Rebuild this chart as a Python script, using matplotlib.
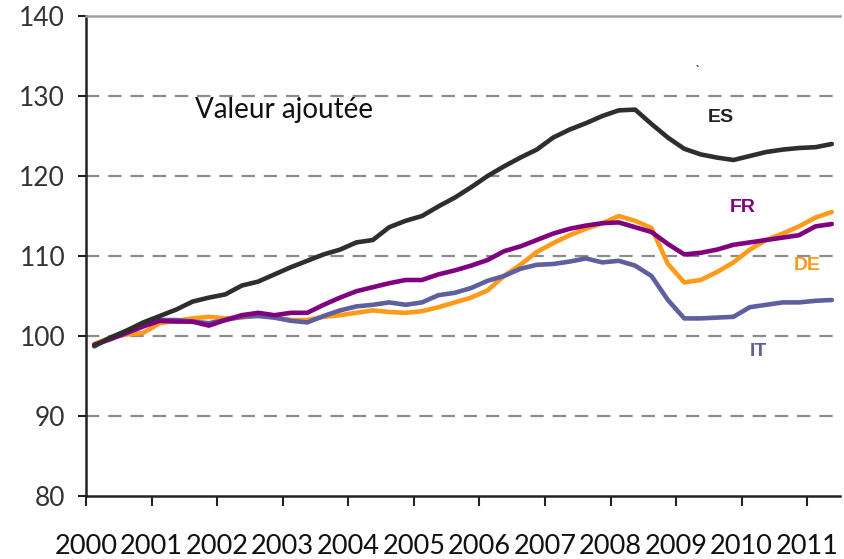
import matplotlib
matplotlib.use("Agg")
import matplotlib.pyplot as plt
import numpy as np

plt.rcParams['font.family'] = ['Lato', 'DejaVu Sans']

years = [str(y) for y in range(2000, 2012)]
n_quarters = 46

es = [98.8, 99.8, 100.7, 101.7, 102.5, 103.3, 104.3, 104.8, 105.2, 106.3, 106.8, 107.7,
      108.6, 109.4, 110.2, 110.8, 111.7, 112.0, 113.6, 114.4, 115.0, 116.2, 117.3, 118.6,
      120.0, 121.2, 122.3, 123.3, 124.8, 125.8, 126.6, 127.5, 128.2, 128.3, 126.5, 124.8,
      123.4, 122.7, 122.3, 122.0, 122.5, 123.0, 123.3, 123.5, 123.6, 124.0]
fr = [98.9, 99.6, 100.4, 101.2, 101.9, 101.8, 101.8, 101.3, 102.0, 102.6, 102.9, 102.6,
      102.9, 102.9, 103.9, 104.8, 105.6, 106.1, 106.6, 107.0, 107.0, 107.7, 108.2, 108.8,
      109.5, 110.6, 111.2, 112.0, 112.8, 113.4, 113.8, 114.1, 114.2, 113.6, 113.0, 111.5,
      110.2, 110.4, 110.8, 111.4, 111.7, 112.0, 112.3, 112.6, 113.7, 114.0]
de = [99.0, 99.8, 100.2, 100.4, 101.6, 101.9, 102.2, 102.4, 102.2, 102.3, 102.6, 102.3,
      102.0, 102.0, 102.4, 102.6, 102.9, 103.2, 103.0, 102.9, 103.1, 103.6, 104.2, 104.8,
      105.7, 107.5, 108.9, 110.5, 111.6, 112.6, 113.4, 114.1, 115.0, 114.4, 113.5, 109.0,
      106.7, 107.0, 108.0, 109.2, 110.8, 112.0, 112.8, 113.7, 114.8, 115.5]
it = [98.7, 99.8, 100.6, 101.4, 102.0, 102.0, 101.8, 101.6, 102.0, 102.4, 102.5, 102.3,
      101.9, 101.7, 102.5, 103.2, 103.7, 103.9, 104.2, 103.9, 104.2, 105.1, 105.4, 106.0,
      106.9, 107.5, 108.4, 108.9, 109.0, 109.3, 109.7, 109.2, 109.4, 108.8, 107.5, 104.5,
      102.2, 102.2, 102.3, 102.4, 103.6, 103.9, 104.2, 104.2, 104.4, 104.5]

x = 2000 + (np.arange(n_quarters) + 0.5) / 4.0

fig = plt.figure(figsize=(8.45, 5.59), dpi=100)
ax = fig.add_axes([86/845, 1-496/559, (840-86)/845, (496-16)/559])

c_es = '#2e2e2e'
c_fr = '#800080'
c_de = '#ff9a1a'
c_it = '#5f5f9f'
lw = 3.3
ax.plot(x, de, color=c_de, lw=lw, zorder=3, solid_capstyle='round')
ax.plot(x, it, color=c_it, lw=lw, zorder=4, solid_capstyle='round')
ax.plot(x, fr, color=c_fr, lw=lw, zorder=5, solid_capstyle='round')
ax.plot(x, es, color=c_es, lw=lw, zorder=6, solid_capstyle='round')

ax.set_xlim(2000, 2011.5)
ax.set_ylim(80, 140)
ax.set_yticks(range(80, 141, 10))
ax.set_xticks(range(2000, 2012))
ax.set_xticklabels(years)

for v in range(90, 140, 10):
    ax.axhline(v, color='#8c8c8c', lw=1.6, ls=(0, (6, 4)), zorder=1)

ax.spines['right'].set_visible(False)
ax.spines['top'].set_color('#a0a0a0')
ax.spines['top'].set_linewidth(1.8)
ax.spines['left'].set_linewidth(1.8)
ax.spines['bottom'].set_linewidth(1.8)
ax.spines['left'].set_color('#222222')
ax.spines['bottom'].set_color('#222222')

ax.tick_params(axis='y', direction='out', length=6, width=1.5, pad=9,
               labelsize=19, labelcolor='#333333', color='#222222')
ax.tick_params(axis='x', direction='out', length=7, width=1.5, pad=20,
               labelsize=19.5, labelcolor='#111111', color='#222222')

ax.text(2001.66, 127.3, 'Valeur ajoutée', fontsize=20, color='#111111', va='baseline')
lab = dict(fontsize=14, fontweight='bold', va='center', ha='center',
           family=['Liberation Sans', 'DejaVu Sans'])
ax.text(2009.68, 127.3, 'ES', color='#222222', **lab)
ax.text(2010.02, 116.0, 'FR', color=c_fr, **lab)
ax.text(2011.0, 108.8, 'DE', color=c_de, **lab)
ax.text(2010.26, 98.0, 'IT', color=c_it, **lab)
ax.text(2009.33, 133.0, '`', fontsize=11, color='#333333', va='center', ha='center')

fig.savefig('out.png', dpi=100)
